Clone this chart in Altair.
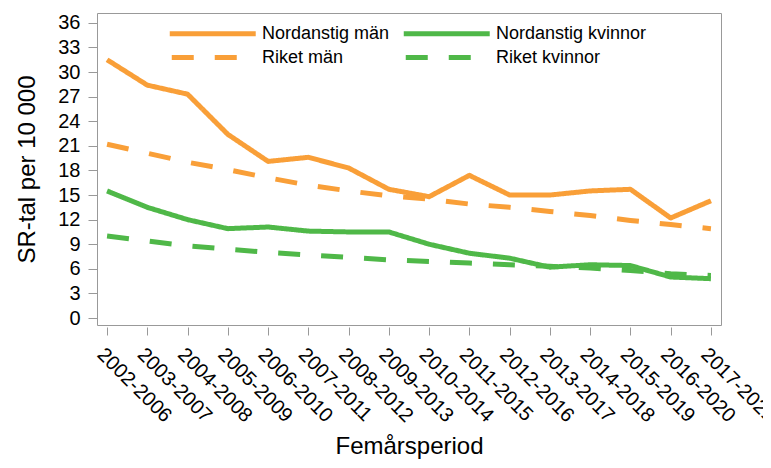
import altair as alt
import pandas as pd

periods = ["2002-2006", "2003-2007", "2004-2008", "2005-2009", "2006-2010",
           "2007-2011", "2008-2012", "2009-2013", "2010-2014", "2011-2015",
           "2012-2016", "2013-2017", "2014-2018", "2015-2019", "2016-2020",
           "2017-2021"]

nordanstig_man = [31.5, 28.4, 27.3, 22.4, 19.1, 19.6, 18.3, 15.7, 14.8, 17.4,
                  15.0, 15.0, 15.5, 15.7, 12.2, 14.3]
nordanstig_kvinnor = [15.5, 13.5, 12.0, 10.9, 11.1, 10.6, 10.5, 10.5, 9.0, 7.9,
                      7.3, 6.2, 6.5, 6.4, 5.0, 4.8]
riket_man = [21.2, 20.1, 19.0, 18.1, 17.1, 16.2, 15.5, 14.9, 14.5, 13.9,
             13.5, 13.0, 12.5, 11.9, 11.4, 10.9]
riket_kvinnor = [10.0, 9.4, 8.8, 8.4, 8.0, 7.7, 7.4, 7.1, 6.9, 6.7,
                 6.5, 6.3, 6.1, 5.8, 5.4, 5.2]

# drawing order (dashed lines on top)
series_names = ["Nordanstig män", "Nordanstig kvinnor", "Riket män", "Riket kvinnor"]
series_values = [nordanstig_man, nordanstig_kvinnor, riket_man, riket_kvinnor]

# legend order (filled column by column, two columns)
legend_order = ["Nordanstig män", "Riket män", "Nordanstig kvinnor", "Riket kvinnor"]
legend_colors = ["#F99F38", "#F99F38", "#4FB848", "#4FB848"]
legend_dash = [[1, 0], [22, 21], [1, 0], [22, 21]]

y_ticks = list(range(0, 37, 3))

rows = []
for name, vals in zip(series_names, series_values):
    for p, v in zip(periods, vals):
        rows.append({"period": p, "value": v, "series": name})
df = pd.DataFrame(rows)

FONT = "Liberation Sans"

chart = alt.Chart(df).mark_line(strokeWidth=5, strokeCap="butt", strokeJoin="round").encode(
    x=alt.X("period:N", sort=periods, scale=alt.Scale(type="point", padding=0.25),
            axis=alt.Axis(title="Femårsperiod", labelAngle=45, labelAlign="left",
                          labelBaseline="top", labelPadding=9, offset=2,
                          tickSize=8, titlePadding=9)),
    y=alt.Y("value:Q", scale=alt.Scale(domain=[-0.85, 37.2], nice=False, zero=False),
            axis=alt.Axis(title="SR-tal per 10 000", values=y_ticks, tickSize=9,
                          labelPadding=8, titlePadding=18)),
    color=alt.Color("series:N", scale=alt.Scale(domain=legend_order, range=legend_colors),
                    legend=alt.Legend(title=None, orient="none", legendX=70, legendY=7,
                                      columns=2, columnPadding=3, rowPadding=-4,
                                      symbolType="M-1,0H7", symbolSize=462,
                                      symbolStrokeWidth=5, symbolDashOffset=41,
                                      labelFontSize=18, labelOffset=68,
                                      labelFont=FONT, labelColor="#000",
                                      padding=0)),
    strokeDash=alt.StrokeDash("series:N",
                              scale=alt.Scale(domain=legend_order, range=legend_dash),
                              legend=None),
    detail="series:N",
).properties(
    width=624, height=312,
    autosize=alt.AutoSizeParams(type="none"),
    padding={"left": 89, "top": 5, "right": 42, "bottom": 135},
).configure_view(
    stroke="#999", strokeWidth=1
).configure_axis(
    domain=False, grid=False, tickColor="#999", tickWidth=1,
    labelFont=FONT, labelFontSize=20, labelColor="#000",
    titleFont=FONT, titleFontSize=24, titleFontWeight="normal", titleColor="#000",
)

chart.save("out.html", embed_options={"renderer": "svg", "actions": False})
